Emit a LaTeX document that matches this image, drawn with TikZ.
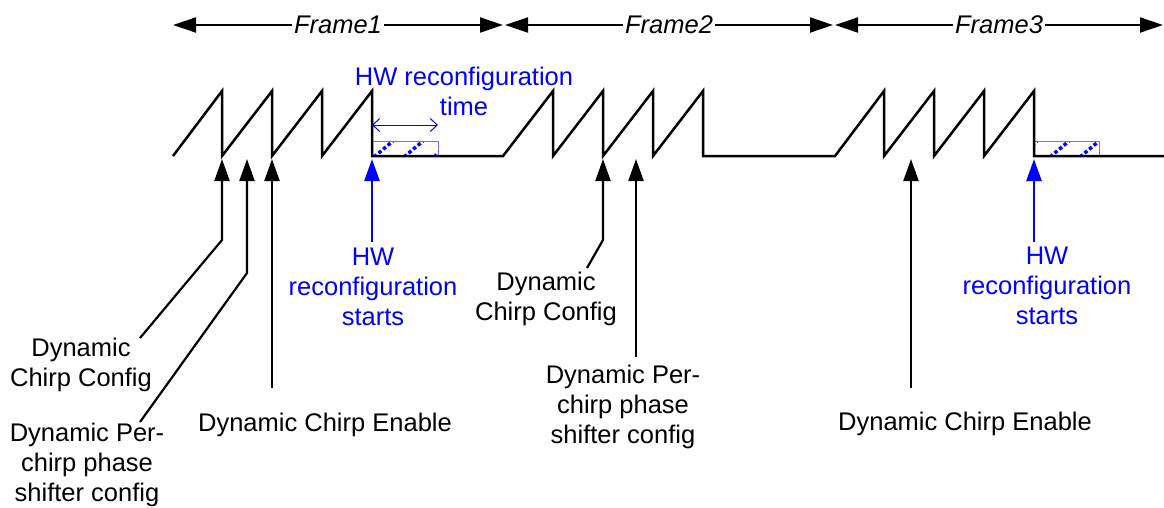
\documentclass[tikz,border=0pt]{standalone}
\usepackage{fontspec}
\setmainfont{Liberation Sans}
\usetikzlibrary{arrows.meta}
\definecolor{hwblue}{RGB}{0,0,255}
\definecolor{boxblue}{RGB}{110,110,255}
\begin{document}
\begin{tikzpicture}[x=1pt,y=-1pt,
 wave/.style={line width=2.5pt, line join=miter},
 frarrow/.style={line width=2pt,{Triangle[length=23pt,width=15pt]}-{Triangle[length=23pt,width=15pt]}},
 frlabel/.style={fill=white,inner sep=2pt,font=\fontsize{25.5}{30}\selectfont\itshape},
 lab/.style={align=center,font=\fontsize{25.5}{30}\selectfont,inner sep=0pt,anchor=north},
 bluelab/.style={lab,text=hwblue},
 upar/.style={line width=2.2pt,line join=miter,-{Triangle[length=22pt,width=15pt]}},
 bluear/.style={upar,draw=hwblue,line width=2.5pt},
 timear/.style={draw=hwblue,line width=1pt,{Straight Barb[length=7pt,width=13pt]}-{Straight Barb[length=7pt,width=13pt]}},
 hbox/.style={draw=boxblue,line width=1pt},
 hatch/.style={draw=hwblue,line width=3.5pt,dash pattern=on 3.5pt off 2.5pt},
]
\useasboundingbox (0,0) rectangle (1164,507);

% frame arrows
\coordinate (f1a) at (173,25); \coordinate (f1b) at (503,25);
\coordinate (f2a) at (505,25); \coordinate (f2b) at (833,25);
\coordinate (f3a) at (835,25); \coordinate (f3b) at (1163,25);
\draw[frarrow] (f1a) -- node[frlabel]{Frame1} (f1b);
\draw[frarrow] (f2a) -- node[frlabel]{Frame2} (f2b);
\draw[frarrow] (f3a) -- node[frlabel]{Frame3} (f3b);

% hatched reconfiguration boxes
\begin{scope}
\clip (372,141) rectangle (438,156);
\foreach \x in {374,404,434} \draw[hatch] (\x,157) -- ++(19,-16);
\end{scope}
\draw[hbox] (372,156) -- (372,141) -- (438,141) -- (438,156);
\begin{scope}
\clip (1034,141) rectangle (1099,156);
\foreach \x in {1018,1050,1080} \draw[hatch] (\x,157) -- ++(19,-16);
\end{scope}
\draw[hbox] (1034,156) -- (1034,141) -- (1099,141) -- (1099,156);

% waveform
\draw[wave] (173,156) -- (222,91) -- (222,156) -- (272,91) -- (272,156) -- (322,91) -- (322,156)
  -- (372,91) -- (372,156) -- (503,156) -- (553,91) -- (553,156) -- (603,91) -- (603,156)
  -- (653,91) -- (653,156) -- (703,91) -- (703,156) -- (835,156) -- (884,91) -- (884,156)
  -- (934,91) -- (934,156) -- (984,91) -- (984,156) -- (1034,91) -- (1034,156) -- (1164,156);

% HW reconfiguration time
\node[bluelab] (hwt) at (464,67) {HW reconfiguration\\time};
\coordinate (ta) at (372,125); \coordinate (tb) at (438,125);
\draw[timear] (ta) -- (tb);

% labels
\node[lab] (l1) at (81,338) {Dynamic\\Chirp Config};
\node[lab] (l2) at (87,423) {Dynamic Per-\\chirp phase\\shifter config};
\node[lab] (l3) at (325,413) {Dynamic Chirp Enable};
\node[bluelab] (h1) at (373,248) {HW\\reconfiguration\\starts};
\node[lab] (l4) at (546,272) {Dynamic\\Chirp Config};
\node[lab] (l5) at (623,365) {Dynamic Per-\\chirp phase\\shifter config};
\node[lab] (l6) at (965,412) {Dynamic Chirp Enable};
\node[bluelab] (h2) at (1047,247) {HW\\reconfiguration\\starts};

% arrow tips, bends, ends
\coordinate (t1) at (222,159); \coordinate (b1) at (222,240); \coordinate (e1) at (140,338);
\coordinate (t2) at (247,159); \coordinate (b2) at (247,273); \coordinate (e2) at (140,422);
\coordinate (t3) at (272,159); \coordinate (e3) at (272,388);
\coordinate (t4) at (372,159); \coordinate (e4) at (372,242);
\coordinate (t5) at (603,159); \coordinate (b5) at (603,240); \coordinate (e5) at (587,268);
\coordinate (t6) at (636,159); \coordinate (e6) at (636,357);
\coordinate (t7) at (911,159); \coordinate (e7) at (911,388);
\coordinate (t8) at (1034,159); \coordinate (e8) at (1034,242);

\draw[upar] (e1) -- (b1) -- (t1);
\draw[upar] (e2) -- (b2) -- (t2);
\draw[upar] (e3) -- (t3);
\draw[bluear] (e4) -- (t4);
\draw[upar] (e5) -- (b5) -- (t5);
\draw[upar] (e6) -- (t6);
\draw[upar] (e7) -- (t7);
\draw[bluear] (e8) -- (t8);
\end{tikzpicture}
\end{document}
